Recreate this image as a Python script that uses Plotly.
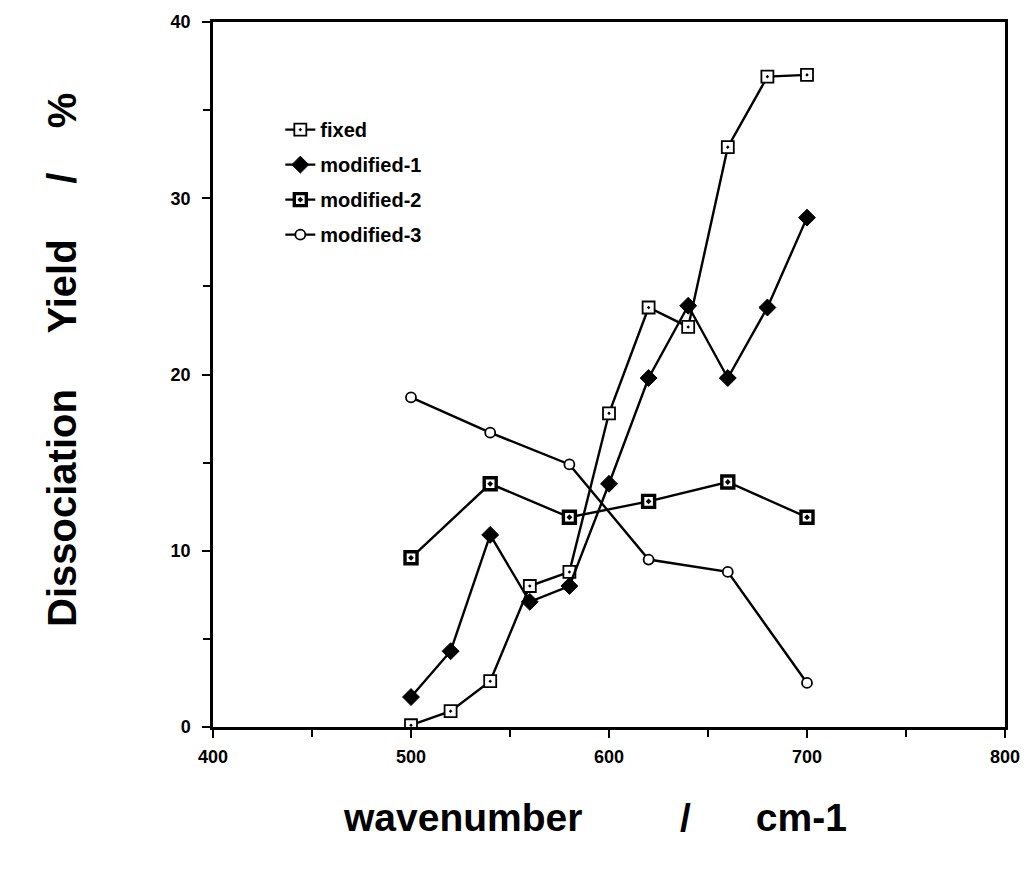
import plotly.graph_objects as go

# ---- data ----
x_fixed = [500, 520, 540, 560, 580, 600, 620, 640, 660, 680, 700]
y_fixed = [0.1, 0.9, 2.6, 8.0, 8.8, 17.8, 23.8, 22.7, 32.9, 36.9, 37.0]

x_mod1 = [500, 520, 540, 560, 580, 600, 620, 640, 660, 680, 700]
y_mod1 = [1.7, 4.3, 10.9, 7.1, 8.0, 13.8, 19.8, 23.9, 19.8, 23.8, 28.9]

x_mod2 = [500, 540, 580, 620, 660, 700]
y_mod2 = [9.6, 13.8, 11.9, 12.8, 13.9, 11.9]

x_mod3 = [500, 540, 580, 620, 660, 700]
y_mod3 = [18.7, 16.7, 14.9, 9.5, 8.8, 2.5]

x_ticks = [400, 500, 600, 700, 800]
y_ticks = [0, 10, 20, 30, 40]

FONT = "Liberation Sans"
NB = "\u00a0"

fig = go.Figure()

def add(name, xs, ys, symbol, size, fill, lw):
    fig.add_trace(go.Scatter(
        x=xs, y=ys, name=name, mode="lines+markers",
        legendgroup=name,
        line=dict(color="black", width=2.4),
        marker=dict(symbol=symbol, size=size, color=fill,
                    line=dict(color="black", width=lw)),
    ))

add("fixed", x_fixed, y_fixed, "square-dot", 12, "white", 1.8)
add("modified-1", x_mod1, y_mod1, "diamond", 13, "black", 1)
add("modified-2", x_mod2, y_mod2, "square-dot", 12, "white", 3.4)
add("modified-3", x_mod3, y_mod3, "circle", 10, "white", 1.8)

axis_common = dict(
    showline=True, linecolor="black", linewidth=2.5, mirror=True,
    ticks="outside", ticklen=8, tickwidth=2, tickcolor="black",
    showgrid=False, zeroline=False,
    tickfont=dict(family=FONT, size=18, color="black", weight="bold"),
)

fig.update_xaxes(range=[400, 800], tickvals=x_ticks,
                 ticklabelstandoff=4,
                 minor=dict(ticks="outside", ticklen=7, tickwidth=1.5,
                            tickcolor="black", dtick=50, tick0=400),
                 **axis_common)
fig.update_yaxes(range=[0, 40], tickvals=y_ticks,
                 ticklabelstandoff=8,
                 minor=dict(ticks="outside", ticklen=7, tickwidth=1.5,
                            tickcolor="black", dtick=5, tick0=0),
                 **axis_common)

fig.add_annotation(
    text="Dissociation" + NB * 5 + "Yield" + NB * 5 + "/" + NB * 4 + "%",
    xref="paper", yref="paper", x=-0.19, y=0.52, textangle=-90,
    showarrow=False, font=dict(family=FONT, size=40, color="black", weight="bold"),
    xanchor="center", yanchor="middle")
fig.add_annotation(
    text="wavenumber" + NB * 9 + "/" + NB * 6 + "cm-1",
    xref="paper", yref="paper", x=0.482, y=-0.128,
    showarrow=False, font=dict(family=FONT, size=39, color="black", weight="bold"),
    xanchor="center", yanchor="middle")

fig.update_layout(
    width=1032, height=872,
    margin=dict(l=213, r=27, t=18, b=145),
    paper_bgcolor="white", plot_bgcolor="white",
    showlegend=True,
    legend=dict(x=0.085, y=0.875, xanchor="left", yanchor="top",
                bgcolor="rgba(0,0,0,0)", tracegroupgap=6,
                font=dict(family=FONT, size=20, color="black", weight="bold")),
    font=dict(family=FONT, color="black"),
)

fig.write_html("out.html")
